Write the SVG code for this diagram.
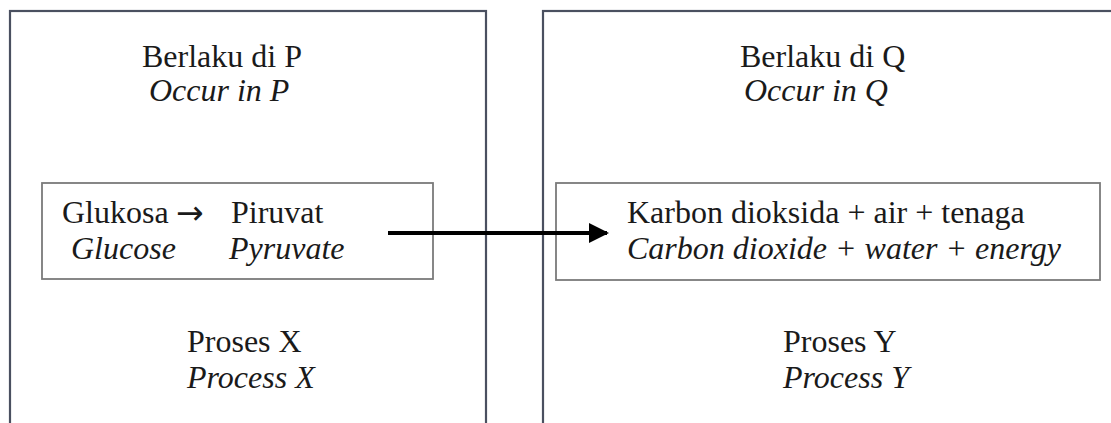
<svg xmlns="http://www.w3.org/2000/svg" width="1111" height="423" viewBox="0 0 1111 423">
<defs>
<style>
.outer{fill:none;stroke:#4a5060;stroke-width:2.2}
.inner{fill:none;stroke:#7a7a7a;stroke-width:1.8}
.t{font-family:"Liberation Serif","Times New Roman",serif;font-size:32px;fill:#1a1a1a}
.i{font-style:italic}
</style>
<marker id="ah" viewBox="0 0 10 10" refX="9" refY="5" markerWidth="5" markerHeight="5" orient="auto" markerUnits="strokeWidth">
<path d="M0,0 L10,5 L0,10 Z" fill="#000"/>
</marker>
</defs>
<rect width="1111" height="423" fill="#fff"/>
<g id="nodeP">
<rect class="outer" x="10" y="11" width="476" height="440"/>
<text class="t" x="142" y="67">Berlaku di P</text>
<text class="t i" x="149" y="101">Occur in P</text>
</g>
<g id="nodeGlukosa">
<rect class="inner" x="42" y="183" width="391" height="96"/>
<text class="t" x="62" y="223">Glukosa</text>
<text x="176" y="224" style="font-family:'DejaVu Sans',sans-serif;font-size:33px;fill:#1a1a1a">→</text>
<text class="t" x="231" y="223">Piruvat</text>
<text class="t i" x="71" y="259">Glucose</text>
<text class="t i" x="229" y="259">Pyruvate</text>
</g>
<g id="nodeX">
<text class="t" x="187" y="352">Proses X</text>
<text class="t i" x="187" y="388">Process X</text>
</g>
<g id="nodeQ">
<rect class="outer" x="543" y="11" width="600" height="440"/>
<text class="t" x="740" y="67">Berlaku di Q</text>
<text class="t i" x="744" y="101">Occur in Q</text>
</g>
<g id="nodeKarbon">
<rect class="inner" x="556" y="183" width="544" height="97"/>
<text class="t" x="627" y="223">Karbon dioksida + air + tenaga</text>
<text class="t i" x="627" y="259">Carbon dioxide + water + energy</text>
</g>
<g id="nodeY">
<text class="t" x="783" y="352">Proses Y</text>
<text class="t i" x="783" y="388">Process Y</text>
</g>
<g id="connectors">
<line x1="388" y1="233" x2="607" y2="233" stroke="#000" stroke-width="4" marker-end="url(#ah)"/>
</g>
</svg>
